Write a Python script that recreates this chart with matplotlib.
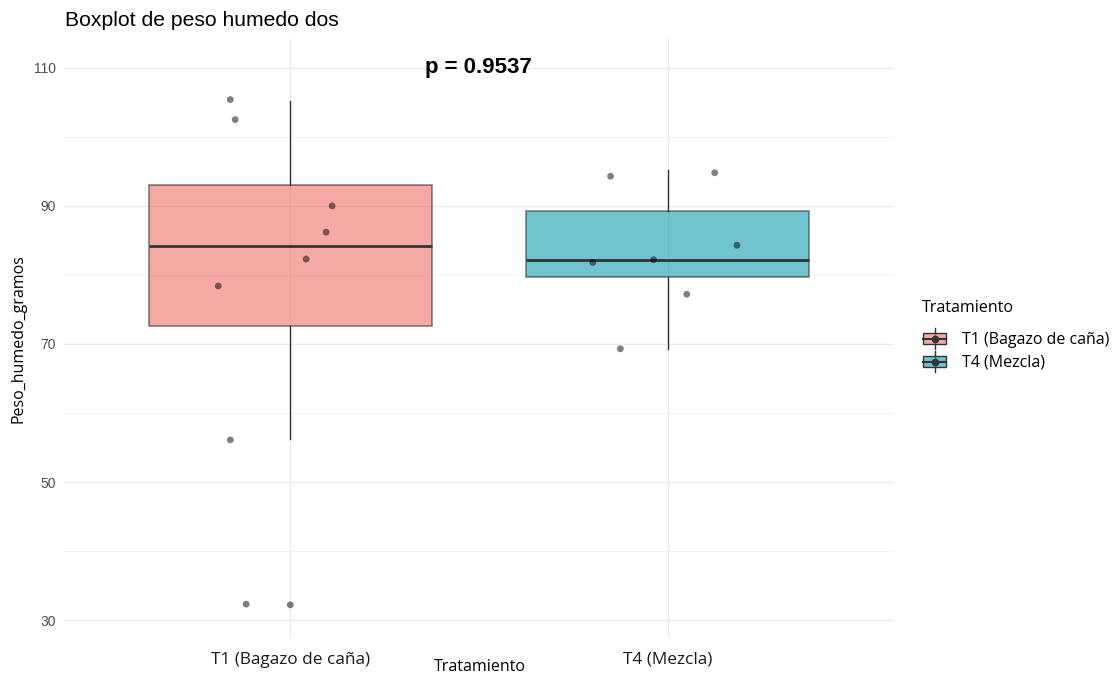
import numpy as np
import matplotlib.pyplot as plt
from matplotlib.patches import Patch, Rectangle
from matplotlib.lines import Line2D
from matplotlib.legend_handler import HandlerBase

# data
grupos = ["T1 (Bagazo de caña)", "T4 (Mezcla)"]
colores = ["#ED7169", "#119DAD"]

t1_peso = [105.4, 102.5, 90.0, 86.2, 82.3, 78.4, 56.1, 32.3, 32.2]
t1_jitter = [-0.159, -0.146, 0.111, 0.095, 0.042, -0.191, -0.159, -0.117, 0.0]
t4_peso = [94.3, 94.8, 84.3, 81.8, 82.2, 77.2, 69.3]
t4_jitter = [-0.151, 0.125, 0.184, -0.198, -0.037, 0.051, -0.125]

# box stats (q1, median, q3, whiskers) as drawn
q1 = [72.6, 79.7]
mediana = [84.2, 82.2]
q3 = [93.0, 89.2]
bigote_inf = [56.2, 69.2]
bigote_sup = [105.2, 95.2]

p_valor = "p = 0.9537"


class HandlerCaja(HandlerBase):
    # little boxplot glyph like the ggplot legend key
    def create_artists(self, legend, orig_handle, xdescent, ydescent,
                       width, height, fontsize, trans):
        c = orig_handle.get_facecolor()
        w = width * 0.9
        h = height * 0.62
        x0 = -xdescent + (width - w) / 2
        y0 = -ydescent + (height - h) / 2
        xm = x0 + w / 2
        ym = y0 + h / 2
        whisk = Line2D([xm, xm], [-ydescent - 0.1 * height, -ydescent + 1.1 * height],
                       color="#333333", lw=1.0, transform=trans)
        rect = Rectangle((x0, y0), w, h, facecolor=c, edgecolor="#333333",
                         lw=1.0, transform=trans)
        med = Line2D([x0, x0 + w], [ym, ym], color="#333333", lw=1.5, transform=trans)
        pt = Line2D([xm], [ym], marker="o", markersize=4.5, color="#333333",
                    transform=trans)
        return [whisk, rect, med, pt]


fig = plt.figure(figsize=(11.2, 6.77), dpi=100)
ax = fig.add_axes([0.0571, 0.0576, 0.741, 0.885])

stats = []
for i in range(2):
    stats.append({"q1": q1[i], "med": mediana[i], "q3": q3[i],
                  "whislo": bigote_inf[i], "whishi": bigote_sup[i], "fliers": []})

bp = ax.bxp(stats, positions=[1, 2], widths=0.75, patch_artist=True,
            showcaps=False, showfliers=False,
            boxprops=dict(edgecolor="#333333", linewidth=1.2),
            medianprops=dict(color="#333333", linewidth=2),
            whiskerprops=dict(color="#333333", linewidth=1.0), zorder=3)
for patch, c in zip(bp["boxes"], colores):
    patch.set_facecolor(c)
    patch.set_alpha(0.6)
    patch.set_edgecolor("#333333")

ax.scatter(1 + np.array(t1_jitter), t1_peso, s=24, color="black", alpha=0.5,
           edgecolors="none", zorder=4)
ax.scatter(2 + np.array(t4_jitter), t4_peso, s=24, color="black", alpha=0.5,
           edgecolors="none", zorder=4)

ax.text(1.5, 110, p_valor, ha="center", va="center", fontsize=16,
        fontweight="bold", family="Liberation Sans")

ax.set_xlim(0.4, 2.6)
ax.set_ylim(27.4, 114.2)
ax.set_xticks([1, 2])
ax.set_xticklabels(grupos, family="Open Sans", fontsize=12.4, color="#1a1a1a")
ax.set_yticks([30, 50, 70, 90, 110])
ax.set_yticks([40, 60, 80, 100], minor=True)
ax.tick_params(axis="y", labelsize=10, colors="#4d4d4d", length=0, pad=6)
ax.tick_params(axis="x", length=0, pad=10)
ax.tick_params(which="minor", length=0)
for lab in ax.get_yticklabels():
    lab.set_family("Liberation Sans")
ax.grid(True, which="major", color="#ebebeb", linewidth=1.0)
ax.grid(True, which="minor", axis="y", color="#f2f2f2", linewidth=0.8)
ax.set_axisbelow(True)
for s in ax.spines.values():
    s.set_visible(False)

ax.set_ylabel("Peso_humedo_gramos", family="Open Sans", fontsize=11.5, labelpad=5)
fig.text(0.4286, 0.003, "Tratamiento", family="Open Sans", fontsize=11.5,
         ha="center", va="bottom")
fig.text(0.058, 0.97, "Boxplot de peso humedo dos", family="Liberation Sans",
         fontsize=15.2, ha="left", va="center")

handles = [Patch(facecolor=c, alpha=0.6) for c in colores]
leg = fig.legend(handles, grupos, handler_map={Patch: HandlerCaja()},
                 loc="upper left", bbox_to_anchor=(0.8105, 0.578), frameon=False,
                 title="Tratamiento", alignment="left", handlelength=1.6,
                 handleheight=1.3, handletextpad=0.87, labelspacing=0.3,
                 prop={"family": "Open Sans", "size": 11.5},
                 title_fontproperties={"family": "Open Sans", "size": 11.5})
leg._legend_box.sep = 10

plt.savefig("out.png", dpi=100)
